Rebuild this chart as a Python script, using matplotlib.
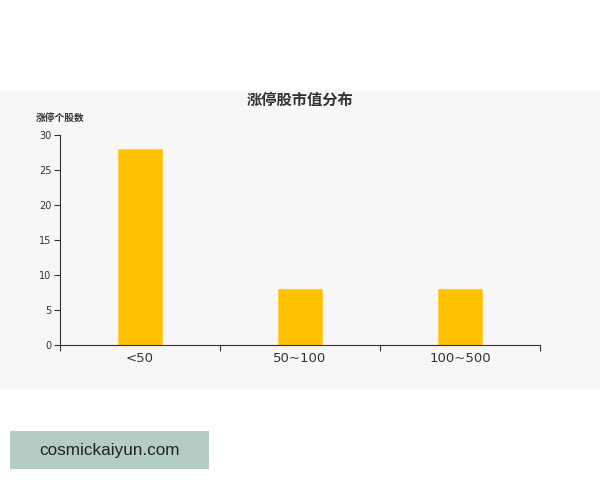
import matplotlib.pyplot as plt
from matplotlib.patches import Rectangle

plt.rcParams['font.family'] = ['Noto Sans CJK SC', 'DejaVu Sans']

# 数据
categories = ["<50", "50~100", "100~500"]
counts = [28, 8, 8]
yticks = [0, 5, 10, 15, 20, 25, 30]

fig = plt.figure(figsize=(6, 4.8), dpi=100)
fig.patch.set_facecolor("white")

# 灰色背景面板
bg = fig.add_axes([0, 90 / 480, 1, 300 / 480], zorder=-1)
bg.set_facecolor("#f7f7f7")
bg.set_axis_off()
bg.add_patch(Rectangle((0, 0), 1, 1, transform=bg.transAxes, facecolor="#f7f7f7", edgecolor="none"))

ax = fig.add_axes([0.1, 0.28125, 0.8, 0.4375], zorder=1)
ax.set_facecolor("none")

x = range(len(categories))
ax.bar(x, counts, width=0.28, color="#FFC000", edgecolor="#FFD040", linewidth=0.8, zorder=2)

ax.set_xlim(-0.5, len(categories) - 0.5)
ax.set_ylim(0, 30)
ax.set_yticks(yticks)
ax.tick_params(axis="y", labelsize=7, length=4, width=0.8, color="#333333", labelcolor="#333333", pad=2)

ax.set_xticks(list(x))
ax.set_xticklabels(categories)
ax.tick_params(axis="x", which="major", length=0, labelsize=9.5, labelcolor="#333333", pad=5)
ax.set_xticks([-0.5, 0.5, 1.5, 2.5], minor=True)
ax.tick_params(axis="x", which="minor", length=4, width=0.8, color="#333333")
for lbl in ax.get_xticklabels() + ax.get_yticklabels():
    lbl.set_family("DejaVu Sans")

for side in ["top", "right"]:
    ax.spines[side].set_visible(False)
for side in ["left", "bottom"]:
    ax.spines[side].set_color("#333333")
    ax.spines[side].set_linewidth(0.8)

fig.text(0.5, 1 - 100 / 480, "涨停股市值分布", ha="center", va="center",
         fontsize=11, fontweight="bold", color="#333333")
fig.text(60 / 600, 1 - 118 / 480, "涨停个股数", ha="center", va="center",
         fontsize=7, fontweight="bold", color="#333333")

# 水印
fig.patches.append(Rectangle((10 / 600, 1 - 469 / 480), 199 / 600, 38 / 480,
                             transform=fig.transFigure, facecolor="#b3cdc3",
                             edgecolor="none", zorder=0))
fig.text(109 / 600, 1 - 450 / 480, "cosmickaiyun.com", ha="center", va="center",
         fontsize=12.3, color="#222222", family="Liberation Sans")

fig.savefig("out.png", dpi=100)
